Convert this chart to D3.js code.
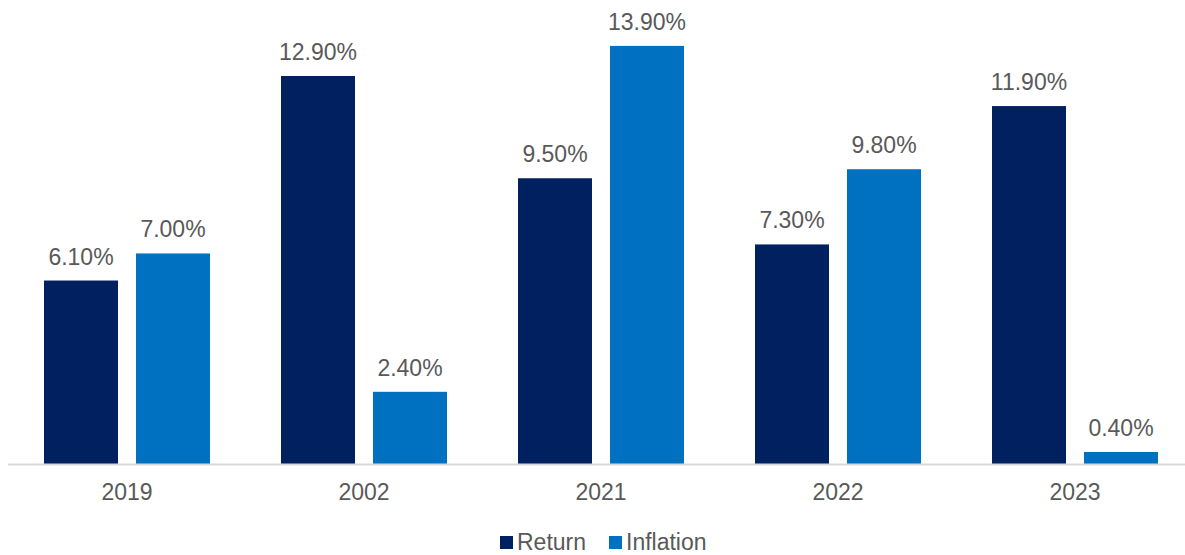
<!DOCTYPE html>
<html>
<head>
<meta charset="utf-8">
<script src="https://cdn.jsdelivr.net/npm/d3@7"></script>
<style>
  html, body { margin: 0; padding: 0; background: #fff; }
  svg { display: block; font-family: "Liberation Sans", Arial, sans-serif; }
</style>
</head>
<body>
<svg id="chart" width="1185" height="555"></svg>
<script>
// Years shown along the x axis
const categories = ["2019", "2002", "2021", "2022", "2023"];
// Series values (percent)
const returnValues = [6.1, 12.9, 9.5, 7.3, 11.9];
const inflationValues = [7.0, 2.4, 13.9, 9.8, 0.4];
const seriesNames = ["Return", "Inflation"];
const seriesColors = ["#002060", "#0070C0"];

const svg = d3.select("#chart");
const textColor = "#595959";
const fontSize = 23;

const x0 = d3.scaleBand()
  .domain(categories)
  .range([8.5, 1193.5])
  .paddingInner(0)
  .paddingOuter(0);

// inner band: two bars of 74px with an 18px gap inside each 237px group
const x1 = d3.scaleBand()
  .domain(seriesNames)
  .range([35.5, 237 - 35.5])
  .paddingInner(18 / 92)
  .paddingOuter(0);

const y = d3.scaleLinear().domain([0, 14]).range([464, 42.9]);

const rows = categories.map((c, i) => ({
  cat: c,
  values: [
    { name: seriesNames[0], v: returnValues[i] },
    { name: seriesNames[1], v: inflationValues[i] }
  ]
}));

const color = d3.scaleOrdinal().domain(seriesNames).range(seriesColors);

const groups = svg.append("g").selectAll("g")
  .data(rows)
  .join("g")
  .attr("transform", d => `translate(${x0(d.cat)},0)`);

groups.selectAll("rect")
  .data(d => d.values)
  .join("rect")
  .attr("x", d => x1(d.name))
  .attr("width", x1.bandwidth())
  .attr("y", d => y(d.v))
  .attr("height", d => y(0) - y(d.v))
  .attr("fill", d => color(d.name));

groups.selectAll("text.val")
  .data(d => d.values)
  .join("text")
  .attr("class", "val")
  .attr("x", d => x1(d.name) + x1.bandwidth() / 2)
  .attr("y", d => y(d.v) - 16)
  .attr("text-anchor", "middle")
  .attr("font-size", fontSize)
  .attr("fill", textColor)
  .text(d => d.v.toFixed(2) + "%");

// x axis
const xAxis = d3.axisBottom(x0).tickSize(0).tickPadding(0);
const axisG = svg.append("g")
  .attr("transform", `translate(0,${y(0)})`)
  .call(xAxis);
axisG.select(".domain").attr("stroke", "#d9d9d9").attr("stroke-width", 2)
  .attr("d", `M8,0.5H1185`);
axisG.selectAll(".tick text")
  .attr("font-size", fontSize)
  .attr("fill", textColor)
  .attr("font-family", "Liberation Sans, Arial, sans-serif")
  .attr("dy", 0)
  .attr("y", 36);

// legend
const legendItems = [
  { name: seriesNames[0], x: 500 },
  { name: seriesNames[1], x: 609 }
];
const legend = svg.append("g").selectAll("g")
  .data(legendItems)
  .join("g")
  .attr("transform", d => `translate(${d.x},0)`);
legend.append("rect")
  .attr("x", 0).attr("y", 536)
  .attr("width", 13).attr("height", 13)
  .attr("fill", d => color(d.name));
legend.append("text")
  .attr("x", 17).attr("y", 550)
  .attr("font-size", fontSize)
  .attr("fill", textColor)
  .text(d => d.name);
</script>
</body>
</html>
